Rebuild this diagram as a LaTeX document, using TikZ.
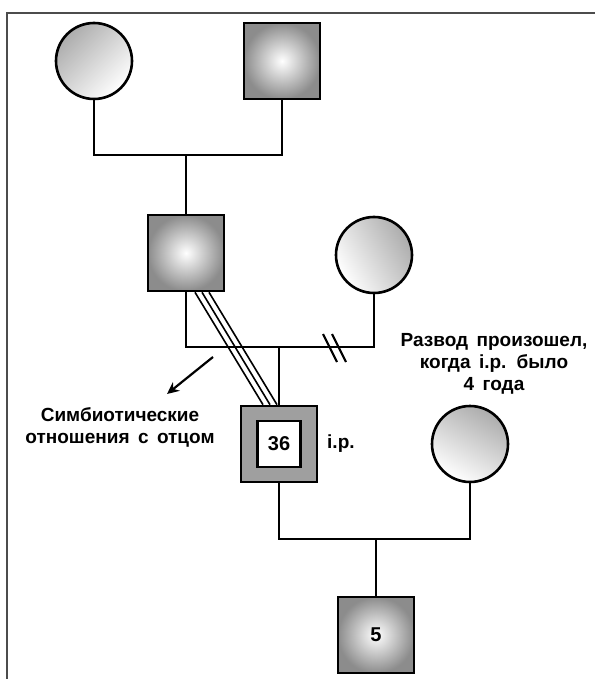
\documentclass[tikz,border=0pt]{standalone}
\usepackage{fontspec}
\setmainfont{Liberation Sans}[WordSpace=1.6]
\usepackage{tikz}
\usetikzlibrary{arrows.meta}

\tikzset{
  male/.style={draw, line width=2.6pt, minimum size=76pt, inner sep=0pt,
    inner color=white, outer color=gray!90},
  female/.style={draw, circle, line width=2.6pt, minimum size=76pt, inner sep=0pt,
    top color=gray!65, bottom color=white},
  link/.style={line width=2.2pt},
  note/.style={font=\fontsize{19}{22}\selectfont\bfseries, align=center, inner sep=0pt},
  age/.style={font=\fontsize{20}{20}\selectfont\bfseries}
}

\begin{document}
\begin{tikzpicture}[x=1pt, y=-1pt]
    \useasboundingbox (0, 0) rectangle (595, 679);
    \draw[gray!60!black, line width=1.5pt] (7, 679) |- (595, 13);

    % grandparents
    \node[female, shading angle=45] (gm) at (94, 61) {};
    \node[male] (gf) at (282, 61) {};
    \coordinate (m0) at (186, 155);
    \draw[link] (gm.south) |- (m0) -| (gf.south);

    % parents
    \node[male] (fa) at (186, 253) {};
    \node[female, shading angle=-60] (mo) at (374, 255) {};
    \draw[link] (m0) -- (fa.north);
    \coordinate (m1) at (279, 347);
    \draw[link] (fa.south) |- (m1) -| (mo.south);

    % divorce
    \coordinate (dv) at (335, 348);
    \draw[link] ([shift={(-12, -14)}]dv) -- ([shift={(2, 14)}]dv);
    \draw[link] ([shift={(-3, -14)}]dv) -- ([shift={(11, 14)}]dv);

    % index person
    \node[draw, line width=2.6pt, minimum size=76pt, fill=gray!75] (ip) at (279, 444) {};
    \node[draw, line width=2.2pt, fill=white, minimum width=43pt, minimum height=46pt,
      inner sep=0pt, age] (ipin) at (ip) {36};
    \node[note, anchor=west] (iplab) at (327, 444) {i.p.};
    \draw[link] (m1) -- (ip.north);

    % symbiosis with father
    \foreach \a/\b in {9/-16, 16/-9, 23/-2}
      \draw[line width=1.6pt] ([xshift=\a pt]fa.south) -- ([xshift=\b pt]ip.north);

    \node[note] (sym) at (120, 427) {Симбиотические\\отношения с отцом};
    \coordinate (ar) at (213, 357);
    \coordinate (at) at (167, 394);
    \draw[link, -{Stealth[length=12pt, width=11pt]}] (ar) -- (at);

    \node[note] (div) at (494, 364) {Развод произошел,\\когда i.p. было\\4 года};

    % wife and son
    \node[female, shading angle=-30] (wf) at (470, 444) {};
    \coordinate (m2) at (376, 539);
    \draw[link] (ip.south) |- (m2) -| (wf.south);
    \node[male, age] (sn) at (376, 635) {5};
    \draw[link] (m2) -- (sn.north);
\end{tikzpicture}
\end{document}
